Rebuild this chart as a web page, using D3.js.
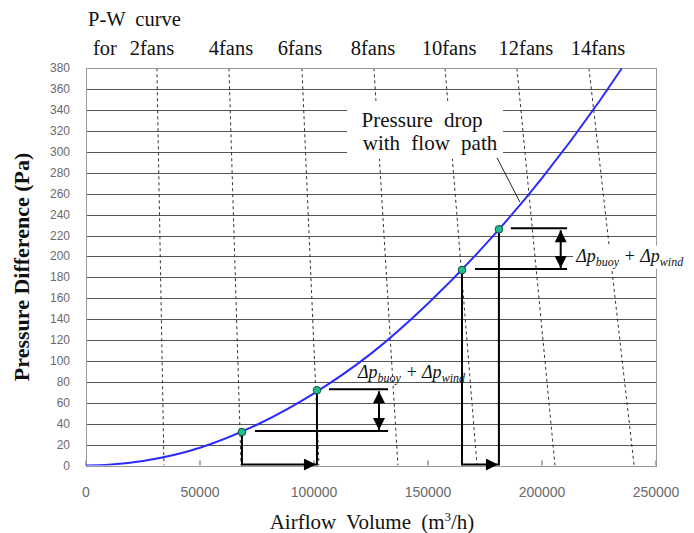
<!DOCTYPE html>
<html>
<head>
<meta charset="utf-8">
<script src="https://cdn.jsdelivr.net/npm/d3@7"></script>
<style>
  body { margin: 0; background: #fff; }
  svg { display: block; }
  .tick-label { font-family: "Liberation Sans", Arial, sans-serif; fill: #6a6a6a; }
  .serif { font-family: "Liberation Serif", "Times New Roman", serif; fill: #111; }
</style>
</head>
<body>
<svg id="chart"></svg>
<script>
// pressure drop of the flow path (Pa) vs airflow (m3/h)
const flowQ = [0, 10000, 25000, 50000, 75000, 100000, 125000, 150000, 175000, 200000, 225000, 235000]
const flowP = [0, 0.7, 4.3, 17, 39, 69, 107, 155, 211, 275, 348, 380]

// fan P-W curves: flow at the top (380 Pa) and at 0 Pa
const fanLabels = ["2fans", "4fans", "6fans", "8fans", "10fans", "12fans", "14fans"]
const fanQAt380 = [31100, 62700, 94700, 126300, 157500, 189000, 220600]
const fanQAt0 = [34200, 68000, 102200, 136800, 171500, 205700, 240400]
// label centre shift (px) from the top of each fan curve
const fanLabelShift = [-5, 2, -2, -1, 4, 9, 9]

// operating points (green dots)
const opQ = [68400, 101300, 164900, 181100]
const opP = [32, 72, 187, 226]

// the two "delta p" brackets: [lower dot, upper dot], where lines end and where the arrow sits
const bracketPairs = [[0, 1], [2, 3]]
const bracketEndQ = [132500, 211000]
const bracketArrowQ = [128500, 208200]

const xTicks = [0, 50000, 100000, 150000, 200000, 250000]
const yTicks = d3.range(0, 381, 20)

const width = 694, height = 533
const margin = { top: 68.3, right: 38, bottom: 67.5, left: 86 }

const svg = d3.select("#chart").attr("width", width).attr("height", height)

const x = d3.scaleLinear().domain([0, 250000]).range([margin.left, width - margin.right])
const y = d3.scaleLinear().domain([0, 380]).range([height - margin.bottom, margin.top])

// defs: arrowheads
const defs = svg.append("defs")
defs.append("marker")
  .attr("id", "arrow")
  .attr("viewBox", "0 0 10 10")
  .attr("refX", 10).attr("refY", 5)
  .attr("markerWidth", 7).attr("markerHeight", 6)
  .attr("markerUnits", "strokeWidth")
  .attr("orient", "auto-start-reverse")
  .append("path").attr("d", "M0,0L10,5L0,10Z").attr("fill", "#000")

const clip = defs.append("clipPath").attr("id", "plot-clip")
clip.append("rect")
  .attr("x", x(0)).attr("y", y(380))
  .attr("width", x(250000) - x(0)).attr("height", y(0) - y(380))

// horizontal grid
svg.append("g")
  .selectAll("line")
  .data(yTicks)
  .join("line")
    .attr("x1", x(0)).attr("x2", x(250000))
    .attr("y1", d => Math.round(y(d)) + 0.5).attr("y2", d => Math.round(y(d)) + 0.5)
    .attr("stroke", "#555").attr("stroke-width", 1)

// bottom ticks
svg.append("g")
  .selectAll("line")
  .data(xTicks)
  .join("line")
    .attr("x1", d => x(d)).attr("x2", d => x(d))
    .attr("y1", y(0)).attr("y2", y(0) - 5)
    .attr("stroke", "#555")

// fan curves
svg.append("g")
  .attr("clip-path", "url(#plot-clip)")
  .selectAll("line")
  .data(fanLabels)
  .join("line")
    .attr("x1", (d, i) => x(fanQAt380[i])).attr("y1", y(380))
    .attr("x2", (d, i) => x(fanQAt0[i])).attr("y2", y(0))
    .attr("stroke", "#333").attr("stroke-width", 1)
    .attr("stroke-dasharray", "3,3")

// plot frame
svg.append("rect")
  .attr("x", x(0) + 0.5).attr("y", Math.round(y(380)) + 0.5)
  .attr("width", x(250000) - x(0)).attr("height", Math.round(y(0)) - Math.round(y(380)))
  .attr("fill", "none").attr("stroke", "#999")

// tick labels
svg.append("g")
  .selectAll("text")
  .data(yTicks)
  .join("text")
    .attr("class", "tick-label")
    .attr("x", x(0) - 16).attr("y", d => y(d) + 4)
    .attr("text-anchor", "end")
    .attr("font-size", 12)
    .text(d => d)

svg.append("g")
  .selectAll("text")
  .data(xTicks)
  .join("text")
    .attr("class", "tick-label")
    .attr("x", d => x(d)).attr("y", y(0) + 31)
    .attr("text-anchor", "middle")
    .attr("font-size", 14)
    .text(d => d)

// pressure drop curve
const flowLine = d3.line()
  .x(d => x(d[0]))
  .y(d => y(d[1]))
  .curve(d3.curveMonotoneX)

svg.append("path")
  .datum(d3.zip(flowQ, flowP))
  .attr("d", flowLine)
  .attr("fill", "none")
  .attr("stroke", "#2a2cff")
  .attr("stroke-width", 2)
  .attr("clip-path", "url(#plot-clip)")

// brackets and arrows
const ann = svg.append("g").attr("stroke", "#000").attr("stroke-width", 2).attr("fill", "none")
bracketPairs.forEach(([lo, hi], k) => {
  // verticals from dots to axis
  ;[lo, hi].forEach(i => {
    ann.append("line")
      .attr("x1", x(opQ[i])).attr("x2", x(opQ[i]))
      .attr("y1", y(opP[i])).attr("y2", y(0))
  })
  // arrow along the axis
  ann.append("line")
    .attr("x1", x(opQ[lo])).attr("x2", x(opQ[hi]) - 1)
    .attr("y1", y(0) - 1).attr("y2", y(0) - 1)
    .attr("marker-end", "url(#arrow)")
  // horizontal levels
  ann.append("line")
    .attr("x1", x(opQ[lo]) + 13).attr("x2", x(bracketEndQ[k]))
    .attr("y1", y(opP[lo]) - 1).attr("y2", y(opP[lo]) - 1)
  ann.append("line")
    .attr("x1", x(opQ[hi]) + 12).attr("x2", x(bracketEndQ[k]))
    .attr("y1", y(opP[hi]) - 1).attr("y2", y(opP[hi]) - 1)
  // double arrow
  ann.append("line")
    .attr("x1", x(bracketArrowQ[k])).attr("x2", x(bracketArrowQ[k]))
    .attr("y1", y(opP[hi]) + 1).attr("y2", y(opP[lo]) - 2)
    .attr("marker-start", "url(#arrow)")
    .attr("marker-end", "url(#arrow)")
})

// operating points
svg.append("g")
  .selectAll("circle")
  .data(opQ)
  .join("circle")
    .attr("cx", d => x(d))
    .attr("cy", (d, i) => y(opP[i]))
    .attr("r", 3.8)
    .attr("fill", "#19c08a")
    .attr("stroke", "#1d4d3a")
    .attr("stroke-width", 1)

// "Pressure drop with flow path" label
const pdx = x(148700), pdy = y(324)
svg.append("rect")
  .attr("x", pdx - 78).attr("y", pdy - 26)
  .attr("width", 156).attr("height", 58)
  .attr("fill", "#fff")
svg.append("line")
  .attr("x1", pdx + 72).attr("y1", pdy + 31)
  .attr("x2", x(190300)).attr("y2", y(252))
  .attr("stroke", "#222").attr("stroke-width", 1)
const pd = svg.append("text")
  .attr("class", "serif")
  .attr("font-size", 21)
  .attr("word-spacing", 6)
  .attr("text-anchor", "middle")
pd.append("tspan").attr("x", pdx - 3).attr("y", pdy).text("Pressure drop")
pd.append("tspan").attr("x", pdx + 5).attr("y", pdy + 23).text("with flow path")

// delta p labels
const deltaLabel = (g, bg) => {
  const t = g.append("text").attr("class", "serif").attr("font-size", 18).attr("font-style", "italic")
  t.append("tspan").text("Δp")
  t.append("tspan").attr("font-size", 12).attr("dy", 4).text("buoy")
  t.append("tspan").attr("dy", -4).text(" + Δp")
  t.append("tspan").attr("font-size", 12).attr("dy", 4).text("wind")
  if (bg) {
    const b = t.node().getBBox()
    g.insert("rect", "text")
      .attr("x", b.x - 2).attr("y", b.y).attr("width", b.width + 4).attr("height", b.height)
      .attr("fill", "#fff")
  }
}
deltaLabel(svg.append("g").attr("transform", `translate(${x(119300)},${y(84)})`), false)
deltaLabel(svg.append("g").attr("transform", `translate(${x(215000)},${y(195)})`), true)

// top labels
svg.append("text")
  .attr("class", "serif")
  .attr("x", 88).attr("y", 26)
  .attr("font-size", 20.5)
  .attr("word-spacing", 5)
  .text("P-W curve")
svg.append("text")
  .attr("class", "serif")
  .attr("x", 93).attr("y", 55)
  .attr("font-size", 20.5)
  .text("for")
svg.append("g")
  .selectAll("text")
  .data(fanLabels)
  .join("text")
    .attr("class", "serif")
    .attr("x", (d, i) => x(fanQAt380[i]) + fanLabelShift[i])
    .attr("y", 55)
    .attr("text-anchor", "middle")
    .attr("font-size", 20.5)
    .text(d => d)

// axis titles
const xt = svg.append("text")
  .attr("class", "serif")
  .attr("x", 372).attr("y", 529)
  .attr("text-anchor", "middle")
  .attr("font-size", 21)
  .attr("word-spacing", 5)
xt.append("tspan").text("Airflow Volume (m")
xt.append("tspan").attr("font-size", 13).attr("dy", -8).text("3")
xt.append("tspan").attr("dy", 8).text("/h)")

svg.append("text")
  .attr("class", "serif")
  .attr("transform", `translate(29,${(y(0) + y(380)) / 2}) rotate(-90)`)
  .attr("text-anchor", "middle")
  .attr("font-size", 22)
  .attr("font-weight", "bold")
  .text("Pressure Difference (Pa)")
</script>
</body>
</html>
